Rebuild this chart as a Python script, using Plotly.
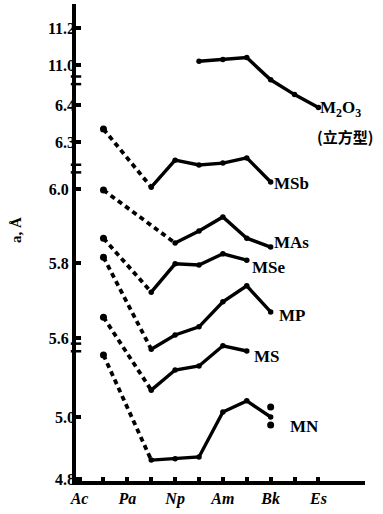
import plotly.graph_objects as go

# Actinide series along the x axis (Ac ... Es)
elements = ["Ac", "Th", "Pa", "U", "Np", "Pu", "Am", "Cm", "Bk", "Cf", "Es"]
labelled = ["Ac", "Pa", "Np", "Am", "Bk", "Es"]

# Lattice parameter a (Å) of the compounds; None where no value is plotted
m2o3 = [None, None, None, None, None, 11.02, 11.03, 11.04, 10.92, 10.84, 10.77]
msb = [None, 6.335, None, 6.178, 6.251, 6.238, 6.243, 6.257, 6.192, None, None]
mas = [None, 5.997, None, None, 5.855, 5.887, 5.925, 5.868, 5.844, None, None]
mse = [None, 5.868, None, 5.723, 5.799, 5.796, 5.826, 5.809, None, None, None]
mp = [None, 5.817, None, 5.570, 5.608, 5.630, 5.697, 5.740, 5.670, None, None]
ms = [None, 5.656, None, 5.460, 5.514, 5.525, 5.579, 5.565, None, None, None]
mn = [None, 5.200, None, 4.861, 4.865, 4.871, 5.016, 5.052, 5.000, None, None]
mn_bk_other = [5.032, 4.974]

# Element where the measured (solid) part of each curve begins
solid_from = {"msb": "U", "mas": "Np", "mse": "U", "mp": "U", "ms": "U", "mn": "U"}

INK = "#000000"
xs = list(range(len(elements)))

fig = go.Figure()


def add_series(vals, yaxis, start=None):
    pts = [(x, v) for x, v in zip(xs, vals) if v is not None]
    if start is not None:
        s = elements.index(start)
        first = pts[0]
        fig.add_trace(go.Scatter(
            x=[first[0], s], y=[first[1], vals[s]], yaxis=yaxis, mode="lines",
            line=dict(color=INK, width=3.8, dash="5px,4px"), showlegend=False))
        fig.add_trace(go.Scatter(
            x=[first[0]], y=[first[1]], yaxis=yaxis, mode="markers",
            marker=dict(color=INK, size=7), showlegend=False))
        pts = [p for p in pts if p[0] >= s]
    fig.add_trace(go.Scatter(
        x=[p[0] for p in pts], y=[p[1] for p in pts], yaxis=yaxis,
        mode="lines+markers", line=dict(color=INK, width=3.4),
        marker=dict(color=INK, size=5.5), showlegend=False))


add_series(m2o3, "y2")
add_series(msb, "y3", solid_from["msb"])
add_series(mas, "y", solid_from["mas"])
add_series(mse, "y", solid_from["mse"])
add_series(mp, "y", solid_from["mp"])
add_series(ms, "y", solid_from["ms"])
add_series(mn, "y4", solid_from["mn"])
fig.add_trace(go.Scatter(
    x=[elements.index("Bk")] * len(mn_bk_other), y=mn_bk_other, yaxis="y4",
    mode="markers", marker=dict(color=INK, size=7), showlegend=False))

tick_font = dict(family="Liberation Serif", size=16, color=INK)


def yaxis_cfg(rng, ticks, base=False):
    cfg = dict(range=rng, tickvals=ticks,
               ticktext=[f"<b>{t:.1f}</b>" for t in ticks],
               ticks="inside", ticklen=5, tickwidth=4, tickcolor=INK,
               tickfont=tick_font, showgrid=False, zeroline=False,
               automargin=False, fixedrange=True)
    if base:
        cfg.update(showline=True, linewidth=4, linecolor=INK)
    else:
        cfg.update(overlaying="y", anchor="x", side="left", showline=False)
    return cfg


fig.update_layout(
    width=383, height=514,
    margin=dict(l=76, r=18, t=4, b=33),
    paper_bgcolor="white", plot_bgcolor="white",
    xaxis=dict(range=[-0.15, 11.95],
               tickvals=[elements.index(e) for e in labelled],
               ticktext=[f"<b><i>{e}</i></b>" for e in labelled],
               ticks="inside", ticklen=4, tickwidth=4, tickcolor=INK,
               minor=dict(tickmode="array", tickvals=xs, ticks="inside",
                          ticklen=4, tickwidth=4, tickcolor=INK, showgrid=False),
               tickfont=tick_font, showline=True, linewidth=4, linecolor=INK,
               showgrid=False, zeroline=False, automargin=False),
    yaxis=yaxis_cfg([5.2161, 6.4966], [6.0, 5.8, 5.6], base=True),
    yaxis2=yaxis_cfg([8.7514, 11.3297], [11.2, 11.0]),
    yaxis3=yaxis_cfg([5.3838, 6.6730], [6.4, 6.3]),
    yaxis4=yaxis_cfg([4.7935, 6.3323], [5.0, 4.8]),
)

# Break marks on the value axis between the scale segments
for yb in (0.84, 0.655, 0.28):
    for dy in (0.008, -0.008):
        fig.add_shape(type="line", xref="paper", yref="paper",
                      x0=-0.018, x1=0.018, y0=yb + dy, y1=yb + dy,
                      line=dict(color=INK, width=2.5))

label_font = dict(family="Liberation Serif", size=17, color=INK)
series_labels = [
    ("M<sub>2</sub>O<sub>3</sub>", 0.915, 0.779),
    ("MSb", 0.744, 0.623),
    ("MAs", 0.744, 0.499),
    ("MSe", 0.668, 0.447),
    ("MP", 0.747, 0.348),
    ("MS", 0.661, 0.262),
    ("MN", 0.792, 0.115),
]
for text, px, py in series_labels:
    fig.add_annotation(text=f"<b>{text}</b>", x=px, y=py, xref="paper",
                       yref="paper", xanchor="center", yanchor="middle",
                       showarrow=False, font=label_font)
fig.add_annotation(text="<b>(立方型)</b>", x=0.931, y=0.723, xref="paper",
                   yref="paper", xanchor="center", yanchor="middle",
                   showarrow=False,
                   font=dict(family="Noto Sans CJK SC", size=15, color=INK))
fig.add_annotation(text="<b>a, Å</b>", x=-0.208, y=0.526, xref="paper",
                   yref="paper", xanchor="center", yanchor="middle",
                   showarrow=False, textangle=-90,
                   font=dict(family="Liberation Serif", size=15, color=INK))

fig.write_html("out.html")
